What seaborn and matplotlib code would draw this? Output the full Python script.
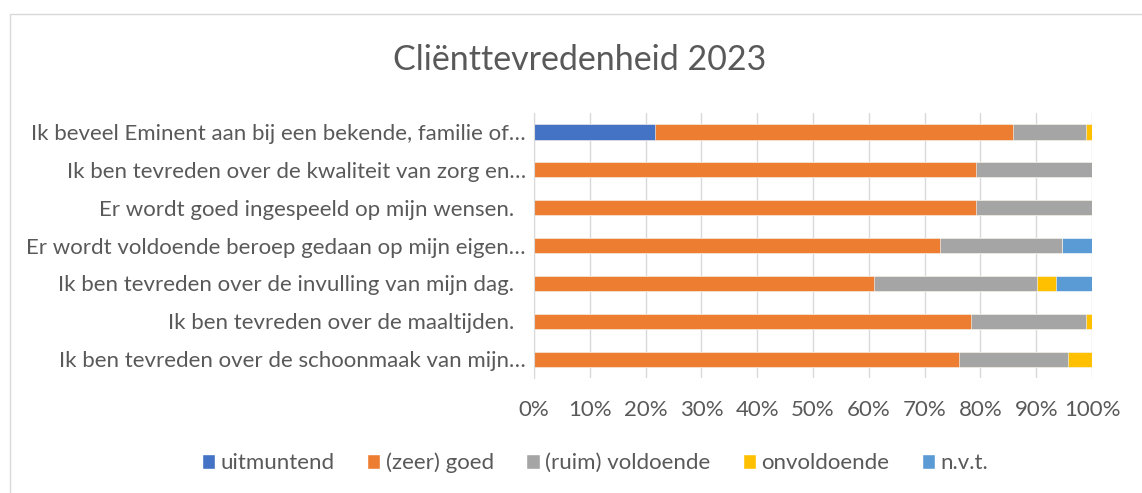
import numpy as np
import pandas as pd
import matplotlib
matplotlib.use("Agg")
import matplotlib.pyplot as plt
import seaborn as sns
from matplotlib.patches import Rectangle, Patch
from matplotlib.ticker import PercentFormatter

# =========================
# DATA (percentages per question)
# =========================
vragen = [
    "Ik beveel Eminent aan bij een bekende, familie of…",
    "Ik ben tevreden over de kwaliteit van zorg en…",
    "Er wordt goed ingespeeld op mijn wensen.  ",
    "Er wordt voldoende beroep gedaan op mijn eigen…",
    "Ik ben tevreden over de invulling van mijn dag.  ",
    "Ik ben tevreden over de maaltijden.  ",
    "Ik ben tevreden over de schoonmaak van mijn…",
]
oordelen = ["uitmuntend", "(zeer) goed", "(ruim) voldoende", "onvoldoende", "n.v.t."]

uitmuntend = [21.7, 0, 0, 0, 0, 0, 0]
zeer_goed = [64.1, 79.3, 79.3, 72.8, 60.9, 78.3, 76.1]
ruim_voldoende = [13.1, 20.7, 20.7, 21.8, 29.3, 20.6, 19.6]
onvoldoende = [1.1, 0, 0, 0, 3.3, 1.1, 4.3]
nvt = [0, 0, 0, 5.4, 6.5, 0, 0]

kleuren = ["#4472C4", "#ED7D31", "#A5A5A5", "#FFC000", "#5B9BD5"]

df = pd.DataFrame({
    "vraag": vragen,
    "uitmuntend": uitmuntend,
    "(zeer) goed": zeer_goed,
    "(ruim) voldoende": ruim_voldoende,
    "onvoldoende": onvoldoende,
    "n.v.t.": nvt,
})
cum = df[oordelen].cumsum(axis=1)

# =========================
# PLOT
# =========================
sns.set_style("white")
plt.rcParams["font.family"] = ["Lato", "DejaVu Sans"]
tekst = "#595959"
fs = 16

fig = plt.figure(figsize=(11.42, 4.93), dpi=100)
fig.patches.append(Rectangle((9.5 / 1142, -0.1), 1.2, 1 - 14 / 493 + 0.1,
                             transform=fig.transFigure, fill=False,
                             edgecolor="#D9D9D9", linewidth=1))
ax = fig.add_axes([534 / 1142, 1 - 378 / 493, 558 / 1142, 265 / 493])

# stacked bars: draw cumulative totals from last segment to first
for naam, kleur in reversed(list(zip(oordelen, kleuren))):
    sns.barplot(x=cum[naam], y=df["vraag"], color=kleur, orient="h",
                width=0.4, saturation=1, ax=ax, edgecolor="white", linewidth=0.4)

ax.set_xlim(0, 100)
ax.set_xticks(np.arange(0, 101, 10))
ax.xaxis.set_major_formatter(PercentFormatter(decimals=0))
ax.set_xlabel("")
ax.set_ylabel("")
ax.grid(axis="x", color="#D9D9D9", linewidth=1)
ax.set_axisbelow(True)
for s in ["top", "right", "bottom"]:
    ax.spines[s].set_visible(False)
ax.spines["left"].set_color("#D9D9D9")
ax.tick_params(axis="x", length=0, pad=16, labelsize=fs, labelcolor=tekst)
ax.tick_params(axis="y", length=0, pad=6, labelsize=fs, labelcolor=tekst)

fig.text(580 / 1142, 1 - 60 / 493, "Cliënttevredenheid 2023", ha="center",
         va="center", fontsize=24.5, color=tekst)

handles = [Patch(facecolor=k, label=n) for n, k in zip(oordelen, kleuren)]
fig.legend(handles=handles, loc="center", bbox_to_anchor=(595 / 1142, 1 - 463 / 493),
           ncol=5, frameon=False, fontsize=fs, labelcolor=tekst,
           handlelength=0.6, handleheight=0.6, handletextpad=0.25, columnspacing=1.45)

fig.savefig("out.png", dpi=100)
